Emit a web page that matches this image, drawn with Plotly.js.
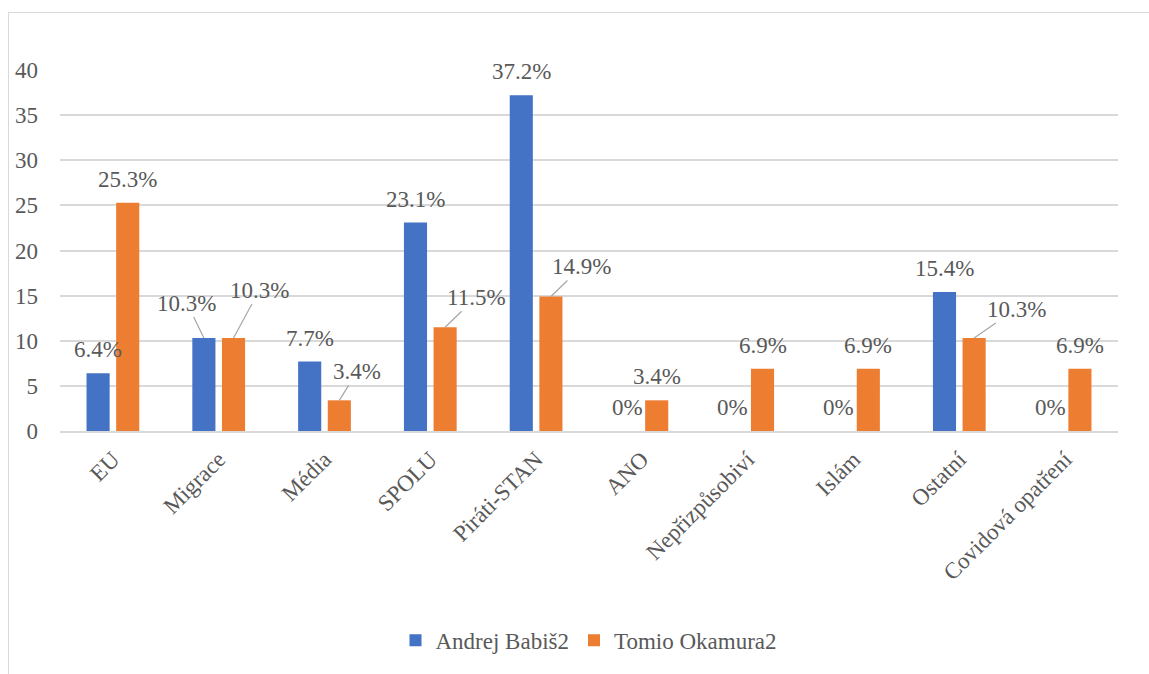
<!DOCTYPE html>
<html>
<head>
<meta charset="utf-8">
<script src="https://cdn.plot.ly/plotly-3.0.1.min.js"></script>
<style>
  html, body { margin: 0; padding: 0; background: #fff; }
  #chart { position: absolute; left: 0; top: 0; width: 1149px; height: 674px; }
  #frame { position: absolute; left: 8px; top: 12px; width: 1150px; height: 680px;
           border: 1px solid #d9d9d9; pointer-events: none; }
</style>
</head>
<body>
<div id="chart"></div>
<div id="frame"></div>
<script>
// ---- data ----
const categories = ["EU", "Migrace", "Média", "SPOLU", "Piráti-STAN", "ANO", "Nepřizpůsobiví", "Islám", "Ostatní", "Covidová opatření"];
const seriesNames = ["Andrej Babiš2", "Tomio Okamura2"];
const babis = [6.4, 10.3, 7.7, 23.1, 37.2, 0, 0, 0, 15.4, 0];
const okamura = [25.3, 10.3, 3.4, 11.5, 14.9, 3.4, 6.9, 6.9, 10.3, 6.9];
const yTicks = [0, 5, 10, 15, 20, 25, 30, 35, 40];

// ---- label placement (pixel offsets; null = plain label above bar) ----
const babisLabelOffsets = [null, [-17, -35], null, null, null, null, null, null, null, null];
const okamuraLabelOffsets = [null, [26, -48], [18, -29], [31, -30], [31, -30], null, null, null, [42, -29], null];

const blue = "#4472C4", orange = "#ED7D31", textCol = "#595959";
const font = "Liberation Serif";
const groupShift = 0.14;

function fmt(v) { return (Math.round(v * 10) / 10) + "%"; }

const annotations = [];
function addLabels(vals, offs, side) {
  vals.forEach((v, i) => {
    const base = {
      x: i + side * groupShift, y: v, xref: "x", yref: "y",
      text: fmt(v), font: { family: font, size: 23, color: textCol },
    };
    const o = offs[i];
    if (o) {
      Object.assign(base, { showarrow: true, arrowhead: 0, arrowwidth: 1.2, arrowcolor: "#a6a6a6",
        ax: o[0], ay: o[1], axref: "pixel", ayref: "pixel", standoff: 0 });
    } else {
      Object.assign(base, { showarrow: false, yanchor: "bottom", yshift: 9 });
    }
    annotations.push(base);
  });
}
addLabels(babis, babisLabelOffsets, -1);
addLabels(okamura, okamuraLabelOffsets, 1);

const idx = categories.map((_, i) => i);
const traces = [
  { type: "bar", name: seriesNames[0], x: idx, y: babis, marker: { color: blue }, hoverinfo: "none" },
  { type: "bar", name: seriesNames[1], x: idx, y: okamura, marker: { color: orange }, hoverinfo: "none" },
];

const layout = {
  width: 1149, height: 674,
  font: { family: font, size: 23, color: textCol },
  margin: { l: 60, r: 31, t: 70, b: 236 },
  paper_bgcolor: "#fff", plot_bgcolor: "#fff",
  barmode: "group", bargap: 0.44, bargroupgap: 0.22,
  showlegend: true,
  legend: { orientation: "h", x: 0.5, xanchor: "center", y: -0.58, yanchor: "middle",
            font: { family: font, size: 23, color: textCol }, itemwidth: 30 },
  xaxis: {
    tickmode: "array", tickvals: idx, ticktext: categories, range: [-0.5, 9.5],
    tickangle: -45, tickfont: { family: font, size: 23, color: textCol },
    showgrid: false, zeroline: false, showline: true, linecolor: "#d9d9d9", linewidth: 1.5,
    ticks: "", ticklabelstandoff: 4,
  },
  yaxis: {
    range: [0, 40], tickmode: "array", tickvals: yTicks, ticktext: yTicks.map(String),
    tickfont: { family: font, size: 23, color: textCol },
    showgrid: true, gridcolor: "#d9d9d9", gridwidth: 1.5, zeroline: false, showline: false,
    ticks: "", ticklabelstandoff: 21,
  },
  annotations: annotations,
};

Plotly.newPlot("chart", traces, layout, { displayModeBar: false });
</script>
</body>
</html>
